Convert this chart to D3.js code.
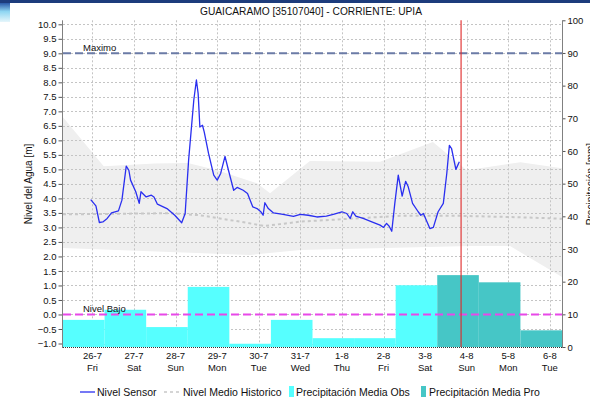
<!DOCTYPE html>
<html>
<head>
<meta charset="utf-8">
<script src="https://cdn.jsdelivr.net/npm/d3@7/dist/d3.min.js"></script>
<style>
  body { margin: 0; background: #fff; }
  svg { display: block; }
  text { font-family: "Liberation Sans", Arial, sans-serif; fill: #111; }
</style>
</head>
<body>
<svg id="chart" width="590" height="404"></svg>
<script>
// ---- Station and series data ----
const chartTitle = "GUAICARAMO [35107040] - CORRIENTE: UPIA";

// Sensor water level (m)
const sensorTimes = [
  "2019-07-25 23:00","2019-07-26 02:00","2019-07-26 04:00","2019-07-26 06:00","2019-07-26 08:30",
  "2019-07-26 11:00","2019-07-26 15:00","2019-07-26 17:00","2019-07-26 19:30","2019-07-26 21:00",
  "2019-07-26 22:00","2019-07-27 01:00","2019-07-27 03:00","2019-07-27 04:00","2019-07-27 07:00",
  "2019-07-27 10:00","2019-07-27 11:30","2019-07-27 13:30","2019-07-27 19:00","2019-07-27 23:30",
  "2019-07-28 03:30","2019-07-28 05:30","2019-07-28 07:30","2019-07-28 10:30","2019-07-28 12:00",
  "2019-07-28 13:00","2019-07-28 14:00","2019-07-28 15:30","2019-07-28 16:30","2019-07-28 19:00",
  "2019-07-28 22:00","2019-07-29 00:00","2019-07-29 02:00","2019-07-29 04:30","2019-07-29 06:30",
  "2019-07-29 09:30","2019-07-29 11:30","2019-07-29 15:00","2019-07-29 17:30","2019-07-29 20:30",
  "2019-07-29 23:00","2019-07-30 01:00","2019-07-30 02:30","2019-07-30 03:30","2019-07-30 05:30",
  "2019-07-30 08:30","2019-07-30 14:00","2019-07-30 20:00","2019-07-31 00:00","2019-07-31 04:30",
  "2019-07-31 09:30","2019-07-31 15:00","2019-07-31 19:00","2019-08-01 00:00","2019-08-01 02:45",
  "2019-08-01 04:45","2019-08-01 06:15","2019-08-01 08:00","2019-08-01 12:15","2019-08-01 17:15",
  "2019-08-01 22:00","2019-08-02 00:00","2019-08-02 01:45","2019-08-02 03:15","2019-08-02 04:45",
  "2019-08-02 06:30","2019-08-02 08:30","2019-08-02 10:45","2019-08-02 12:45","2019-08-02 14:15",
  "2019-08-02 16:45","2019-08-02 20:00","2019-08-02 21:30","2019-08-02 23:00","2019-08-03 02:45",
  "2019-08-03 04:45","2019-08-03 07:30","2019-08-03 10:30","2019-08-03 12:30","2019-08-03 14:00",
  "2019-08-03 15:15","2019-08-03 17:45","2019-08-03 19:45"
];
const sensorLevels = [
  3.96,3.74,3.17,3.19,3.31,
  3.50,3.57,3.94,5.11,4.97,
  4.63,4.23,3.83,4.23,4.05,
  4.11,4.05,3.80,3.65,3.42,
  3.16,3.48,5.32,7.39,8.08,
  7.61,6.46,6.52,6.29,5.55,
  4.80,4.63,4.86,5.45,4.97,
  4.28,4.38,4.28,4.17,3.71,
  3.65,3.55,3.42,3.85,3.65,
  3.50,3.45,3.38,3.45,3.42,
  3.36,3.39,3.45,3.54,3.48,
  3.31,3.54,3.39,3.31,3.19,
  3.08,3.00,3.14,3.04,2.87,
  3.83,4.80,4.08,4.59,4.40,
  3.83,3.54,3.42,3.48,2.96,
  3.00,3.54,3.83,4.86,5.83,
  5.72,5.00,5.26
];

// Historic mean level (m)
const meanTimes = ["2019-07-25 07:00","2019-07-27 21:00","2019-07-28 14:00","2019-07-29 13:00",
  "2019-07-30 03:30","2019-07-31 00:00","2019-08-01 05:00","2019-08-02 09:30","2019-08-03 20:00",
  "2019-08-05 07:00","2019-08-06 07:00"];
const meanLevels = [3.45,3.49,3.42,3.20,3.05,3.20,3.30,3.40,3.40,3.35,3.30];

// Historic range envelope (m)
const bandUpperTimes = ["2019-07-25 07:00","2019-07-26 06:30","2019-07-27 12:00","2019-07-28 07:00",
  "2019-07-29 00:00","2019-07-29 23:00","2019-07-30 06:30","2019-07-31 05:30","2019-08-01 22:00",
  "2019-08-03 04:30","2019-08-04 00:00","2019-08-05 07:00","2019-08-06 07:00"];
const bandUpperLevels = [6.80,5.11,5.20,5.22,4.97,4.52,4.18,5.29,5.26,5.94,4.97,5.25,5.04];
const bandLowerTimes = ["2019-07-25 07:00","2019-07-29 19:00","2019-07-31 00:00","2019-08-04 02:00",
  "2019-08-05 01:00","2019-08-06 07:00"];
const bandLowerLevels = [2.29,2.05,2.22,2.36,2.36,1.29];

// Daily precipitation (mm), each period 07:00 to 07:00
const precipObsStarts = ["2019-07-25 07:00","2019-07-26 07:00","2019-07-27 07:00","2019-07-28 07:00",
  "2019-07-29 07:00","2019-07-30 07:00","2019-07-31 07:00","2019-08-01 07:00","2019-08-02 07:00"];
const precipObsValues = [8.3,11.4,6.1,18.4,1.0,8.3,2.7,2.7,18.9];
const precipProStarts = ["2019-08-03 07:00","2019-08-04 07:00","2019-08-05 07:00"];
const precipProValues = [22.0,19.8,5.1];

// Reference levels (m)
const maximoLevel = 9.0;
const nivelBajoLevel = 0.0;
const currentTime = "2019-08-03 20:45";

// Axis ticks
const tickDays = ["2019-07-26","2019-07-27","2019-07-28","2019-07-29","2019-07-30","2019-07-31",
  "2019-08-01","2019-08-02","2019-08-03","2019-08-04","2019-08-05","2019-08-06"];
const levelTicks = d3.range(-1, 10.001, 0.5);
const precipTicks = d3.range(0, 100.001, 10);
const timeDomain = ["2019-07-25 07:00", "2019-08-06 07:00"];

// ---- Drawing ----
const parseT = d3.timeParse("%Y-%m-%d %H:%M");
const parseD = d3.timeParse("%Y-%m-%d");
const svg = d3.select("#chart");

const plotL = 63, plotR = 562, plotT = 20.3, plotB = 347;
const x = d3.scaleTime().domain(timeDomain.map(parseT)).range([plotL, plotR]);
const yL = d3.scaleLinear().domain([-1, 10]).range([343.5, 24.3]);
const yR = d3.scaleLinear().domain([0, 100]).range([plotB, plotT]);

// page header strip
const defs = svg.append("defs");
const grad = defs.append("linearGradient").attr("id", "tab").attr("x1", 0).attr("y1", 0).attr("x2", 0).attr("y2", 1);
grad.append("stop").attr("offset", "0%").attr("stop-color", "#2b5aa8");
grad.append("stop").attr("offset", "45%").attr("stop-color", "#8fd6f2");
grad.append("stop").attr("offset", "100%").attr("stop-color", "#e6f6fb");
svg.append("rect").attr("x", 0).attr("y", 3).attr("width", 10).attr("height", 19).attr("fill", "url(#tab)");
svg.append("rect").attr("x", 0).attr("y", 0).attr("width", 590).attr("height", 3).attr("fill", "#1d3c7c");

// title
svg.append("text").attr("x", 311).attr("y", 15).attr("text-anchor", "middle")
  .style("font-size", "10.2px").attr("fill", "#222").text(chartTitle);

// historic envelope
const upperPts = bandUpperTimes.map((t, i) => [x(parseT(t)), yL(bandUpperLevels[i])]);
const lowerPts = bandLowerTimes.map((t, i) => [x(parseT(t)), yL(bandLowerLevels[i])]).reverse();
svg.append("path").attr("d", d3.line()(upperPts.concat(lowerPts)) + "Z").attr("fill", "#efefef");

// grid
const grid = svg.append("g").attr("stroke", "#c4c4c4").attr("stroke-width", 1).attr("stroke-dasharray", "2,2");
grid.selectAll("line.h").data(levelTicks).join("line").attr("class", "h")
  .attr("x1", plotL).attr("x2", plotR)
  .attr("y1", d => Math.round(yL(d)) + 0.5).attr("y2", d => Math.round(yL(d)) + 0.5);
grid.selectAll("line.v").data(tickDays).join("line").attr("class", "v")
  .attr("x1", d => Math.round(x(parseD(d))) + 0.5).attr("x2", d => Math.round(x(parseD(d))) + 0.5)
  .attr("y1", plotT).attr("y2", plotB);

// precipitation bars
function bars(starts, values, color) {
  svg.append("g").selectAll("rect").data(starts.map((s, i) => ({ s: parseT(s), v: values[i] }))).join("rect")
    .attr("x", d => x(d.s))
    .attr("width", d => x(d3.timeDay.offset(d.s, 1)) - x(d.s))
    .attr("y", d => yR(d.v))
    .attr("height", d => yR(0) - yR(d.v))
    .attr("fill", color);
}
bars(precipObsStarts, precipObsValues, "#56ffff");
bars(precipProStarts, precipProValues, "#46c6c6");

// historic mean line
svg.append("path")
  .attr("d", d3.line().x(t => x(parseT(t))).y((t, i) => yL(meanLevels[i]))(meanTimes))
  .attr("fill", "none").attr("stroke", "#c8c8c8").attr("stroke-width", 2).attr("stroke-dasharray", "3,3");

// reference levels
svg.append("line").attr("x1", plotL).attr("x2", plotR).attr("y1", yL(maximoLevel)).attr("y2", yL(maximoLevel))
  .attr("stroke", "#6b7ba6").attr("stroke-width", 2).attr("stroke-dasharray", "8,4");
svg.append("line").attr("x1", plotL).attr("x2", plotR).attr("y1", yL(nivelBajoLevel)).attr("y2", yL(nivelBajoLevel))
  .attr("stroke", "#e848e8").attr("stroke-width", 2).attr("stroke-dasharray", "8,4");
svg.append("text").attr("x", 83).attr("y", yL(maximoLevel) - 2.5).style("font-size", "9.5px").text("Maximo");
svg.append("text").attr("x", 83).attr("y", yL(nivelBajoLevel) - 2.5).style("font-size", "9.5px").text("Nivel Bajo");

// sensor level
svg.append("path")
  .attr("d", d3.line().x(t => x(parseT(t))).y((t, i) => yL(sensorLevels[i]))(sensorTimes))
  .attr("fill", "none").attr("stroke", "#2a2ff0").attr("stroke-width", 1.3).attr("stroke-linejoin", "round");

// current time marker
const cx = x(parseT(currentTime));
svg.append("line").attr("x1", cx).attr("x2", cx).attr("y1", plotT).attr("y2", plotB)
  .attr("stroke", "#e02828").attr("stroke-width", 1.1);

// left axis
const gL = svg.append("g").attr("transform", `translate(${plotL - 0.5},0)`)
  .call(d3.axisLeft(yL).tickValues(levelTicks).tickFormat(d3.format(".1f")).tickSize(4).tickPadding(2));
gL.select(".domain").remove();
gL.selectAll("line").attr("stroke", "#555");
gL.selectAll("text").style("font-size", "9.5px").attr("fill", "#111").style("font-family", "'Liberation Sans', Arial, sans-serif");
svg.append("line").attr("x1", plotL - 0.5).attr("x2", plotL - 0.5).attr("y1", plotT).attr("y2", plotB + 1)
  .attr("stroke", "#808080");

// right axis
const gR = svg.append("g").attr("transform", `translate(${plotR + 0.5},0)`)
  .call(d3.axisRight(yR).tickValues(precipTicks).tickFormat(d3.format("d")).tickSize(3).tickPadding(2));
gR.select(".domain").remove();
gR.selectAll("line").attr("stroke", "#555");
gR.selectAll("text").style("font-size", "9.5px").attr("fill", "#111").style("font-family", "'Liberation Sans', Arial, sans-serif");
svg.append("line").attr("x1", plotR + 0.5).attr("x2", plotR + 0.5).attr("y1", plotT).attr("y2", plotB + 1)
  .attr("stroke", "#808080");

// bottom axis
svg.append("line").attr("x1", plotL).attr("x2", plotR).attr("y1", plotB + 0.5).attr("y2", plotB + 0.5)
  .attr("stroke", "#333").attr("stroke-dasharray", "1,1");
const fmtDay = d3.timeFormat("%-d-%-m"), fmtWk = d3.timeFormat("%a");
const xl = svg.append("g");
tickDays.forEach(d => {
  const dt = parseD(d);
  xl.append("text").attr("x", x(dt)).attr("y", 359).attr("text-anchor", "middle").style("font-size", "9.5px").text(fmtDay(dt));
  xl.append("text").attr("x", x(dt)).attr("y", 371).attr("text-anchor", "middle").style("font-size", "9.5px").text(fmtWk(dt));
});

// axis titles
svg.append("text").attr("transform", "translate(32,184) rotate(-90)").attr("text-anchor", "middle")
  .style("font-size", "10px").text("Nivel del Agua [m]");
svg.append("text").attr("transform", "translate(594,184) rotate(-90)").attr("text-anchor", "middle")
  .style("font-size", "10px").text("Precipitación [mm]");

// legend
const lg = svg.append("g").style("font-size", "10.5px");
const ly = 396;
lg.append("line").attr("x1", 80).attr("x2", 95).attr("y1", ly - 4).attr("y2", ly - 4).attr("stroke", "#2a2ff0").attr("stroke-width", 1.3);
lg.append("text").attr("x", 97).attr("y", ly).text("Nivel Sensor");
lg.append("line").attr("x1", 164).attr("x2", 180).attr("y1", ly - 4).attr("y2", ly - 4).attr("stroke", "#c8c8c8").attr("stroke-width", 1.5).attr("stroke-dasharray", "3,3");
lg.append("text").attr("x", 183).attr("y", ly).text("Nivel Medio Historico");
lg.append("rect").attr("x", 289).attr("y", ly - 10).attr("width", 5).attr("height", 11).attr("fill", "#56ffff");
lg.append("text").attr("x", 296).attr("y", ly).text("Precipitación Media Obs");
lg.append("rect").attr("x", 421).attr("y", ly - 10).attr("width", 5).attr("height", 11).attr("fill", "#46c6c6");
lg.append("text").attr("x", 429).attr("y", ly).text("Precipitación Media Pro");
</script>
</body>
</html>
